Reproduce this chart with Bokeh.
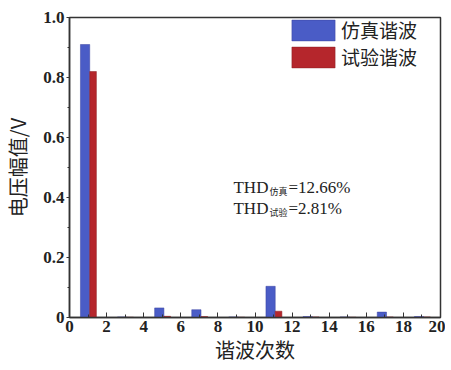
from bokeh.plotting import figure
from bokeh.models import Range1d, FixedTicker, Legend, LegendItem, Label
from bokeh.embed import file_html
from bokeh.resources import INLINE

# ---- data ----
harmonics = [1, 3, 5, 7, 9, 11, 13, 15, 17, 19]
sim_amp = [0.91, 0.002, 0.032, 0.026, 0.002, 0.104, 0.003, 0.002, 0.018, 0.003]
exp_amp = [0.82, 0.001, 0.004, 0.003, 0.001, 0.021, 0.002, 0.001, 0.002, 0.002]
series_names = ["仿真谐波", "试验谐波"]
x_ticks = [0, 2, 4, 6, 8, 10, 12, 14, 16, 18, 20]
y_ticks = [0, 0.2, 0.4, 0.6, 0.8, 1.0]
y_tick_labels = ["0", "0.2", "0.4", "0.6", "0.8", "1.0"]
thd_names = ["仿真", "试验"]
thd_values = ["=12.66%", "=2.81%"]
thd_y = [0.433, 0.363]

BLUE = "#4a5cc6"
RED = "#b5262c"
SERIF = "Liberation Serif"
CJK = "Noto Sans CJK SC"
INK = "#222222"

p = figure(frame_width=371, frame_height=300, output_backend="svg",
           toolbar_location=None,
           x_range=Range1d(0, 20), y_range=Range1d(0, 1.0))
p.min_border_left = 59
p.min_border_right = 5
p.min_border_top = 17
p.min_border_bottom = 45
p.background_fill_color = "white"
p.border_fill_color = "white"
p.outline_line_color = "#333333"
p.outline_line_width = 1.5
p.xgrid.visible = False
p.ygrid.visible = False

sim_x = [h - 0.16 for h in harmonics]
exp_x = [h + 0.27 for h in harmonics]
r1 = p.vbar(x=sim_x, top=sim_amp, width=0.5, bottom=0,
            fill_color=BLUE, line_color="#3a42a0", line_width=0.5)
r2 = p.vbar(x=exp_x, top=exp_amp, width=0.36, bottom=0,
            fill_color=RED, line_color="#8a1f22", line_width=0.5)

# axes
for ax in (p.xaxis[0], p.yaxis[0]):
    ax.major_label_text_font = SERIF
    ax.major_label_text_font_size = "17px"
    ax.major_label_text_font_style = "bold"
    ax.major_label_text_color = INK
    ax.axis_label_text_font = CJK
    ax.axis_label_text_font_size = "20px"
    ax.axis_label_text_font_style = "normal"
    ax.axis_label_text_color = INK
    ax.axis_line_color = "#333333"
    ax.axis_line_width = 1.5
    ax.major_tick_line_color = "#333333"
    ax.minor_tick_line_color = "#333333"

xa = p.xaxis[0]
xa.ticker = FixedTicker(ticks=x_ticks, minor_ticks=list(range(1, 20, 2)))
xa.major_tick_in = 5
xa.major_tick_out = 0
xa.minor_tick_in = 3
xa.minor_tick_out = 0
xa.axis_label = "谐波次数"
xa.axis_label_standoff = 0
xa.major_label_standoff = 3

ya = p.yaxis[0]
ya.ticker = FixedTicker(ticks=y_ticks, minor_ticks=[0.1, 0.3, 0.5, 0.7, 0.9])
ya.major_tick_in = 0
ya.major_tick_out = 3
ya.minor_tick_in = 0
ya.minor_tick_out = 2
ya.major_label_overrides = {t: s for t, s in zip(y_ticks, y_tick_labels)}
ya.axis_label = "电压幅值/V"
ya.axis_label_standoff = 8
ya.major_label_standoff = 2

# legend
legend = Legend(items=[LegendItem(label=series_names[0], renderers=[r1]),
                       LegendItem(label=series_names[1], renderers=[r2])],
                location=(217, 247), orientation="vertical")
legend.glyph_width = 54
legend.glyph_height = 26
legend.label_height = 26
legend.spacing = -4
legend.padding = 0
legend.margin = 0
legend.label_standoff = 1
legend.label_text_font = CJK
legend.label_text_font_size = "19px"
legend.label_text_color = INK
legend.background_fill_alpha = 0
legend.border_line_alpha = 0
p.add_layout(legend)

# THD annotation
for name, val, yy in zip(thd_names, thd_values, thd_y):
    p.add_layout(Label(x=8.84, y=yy, text="THD", text_font=SERIF,
                       text_font_size="17px", text_color=INK,
                       text_baseline="alphabetic"))
    p.add_layout(Label(x=8.84, y=yy, x_offset=36, y_offset=-4, text=name,
                       text_font=CJK, text_font_size="9px", text_color=INK,
                       text_baseline="alphabetic"))
    p.add_layout(Label(x=8.84, y=yy, x_offset=55, text=val, text_font=SERIF,
                       text_font_size="17px", text_color=INK,
                       text_baseline="alphabetic"))

open("out.html", "w").write(file_html(p, INLINE))
